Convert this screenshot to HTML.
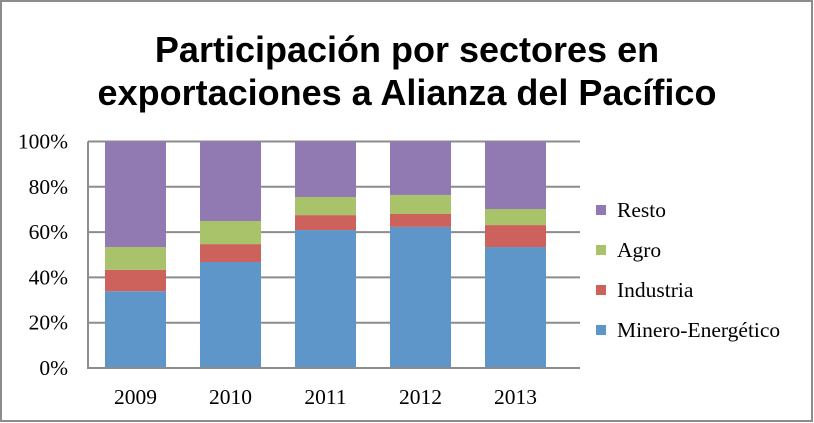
<!DOCTYPE html>
<html><head><meta charset="utf-8"><style>
body{margin:0;background:#fff;}
svg{display:block;}
</style></head><body>
<svg id="chart" width="814" height="423" xmlns="http://www.w3.org/2000/svg">
<rect x="1" y="1" width="811" height="420" fill="#fff" stroke="#8c8c8c" stroke-width="2"/>
<text x="407" y="62" text-anchor="middle" font-family="Liberation Sans, sans-serif" font-weight="bold" font-size="36" fill="#000">Participación por sectores en</text>
<text x="407" y="105" text-anchor="middle" font-family="Liberation Sans, sans-serif" font-weight="bold" font-size="36" fill="#000">exportaciones a Alianza del Pacífico</text>
<g id="grid"></g><g id="bars"></g><g id="axes"></g><g id="legend"></g>
</svg>
<script>
const categories=["2009","2010","2011","2012","2013"];
const minero=[33.9,46.8,60.9,62.3,53.4];
const industria=[9.4,7.9,6.6,5.7,9.7];
const agro=[10.1,10.2,8.0,8.4,7.1];
const resto=[46.6,35.1,24.5,23.6,29.8];
const tickValues=[0,20,40,60,80,100];
const tickLabels=["0%","20%","40%","60%","80%","100%"];
const seriesNames=["Minero-Energético","Industria","Agro","Resto"];
const seriesColors=["#5f96c9","#cd625c","#a9c36b","#9179b1"];
const NS="http://www.w3.org/2000/svg";
const x0=88,x1=580,yTop=141.5,yBot=368;
function y(v){return yBot-(v/100)*(yBot-yTop);}
function xc(i){return 135.5+i*95;}
const bw=61;
function mk(t,a,p){const e=document.createElementNS(NS,t);for(const k in a)e.setAttribute(k,a[k]);p.appendChild(e);return e;}
const grid=document.getElementById('grid'),bars=document.getElementById('bars'),axes=document.getElementById('axes'),legend=document.getElementById('legend');
tickValues.forEach((v,i)=>{
 if(v>0){const l=mk('line',{x1:x0,x2:x1,y1:y(v),y2:y(v),stroke:'#8c8c8c','stroke-width':2},grid);
 
 }
 const t=mk('text',{x:68,y:y(v)+7,'text-anchor':'end','font-family':'Liberation Serif, serif','font-size':21.5,fill:'#000'},axes);
 t.textContent=tickLabels[i];
 
 
});
const series=[minero,industria,agro,resto];
categories.forEach((c,i)=>{
 let acc=0;
 series.forEach((s,k)=>{
  const r=mk('rect',{x:xc(i)-bw/2,y:y(acc+s[i]),width:bw,height:y(acc)-y(acc+s[i]),fill:seriesColors[k]},bars);
  
  
  acc+=s[i];
 });
 const t=mk('text',{x:xc(i),y:404,'text-anchor':'middle','font-family':'Liberation Serif, serif','font-size':21.5,fill:'#000'},axes);
 t.textContent=c;
 
 
});
const ax=mk('path',{d:`M${x0} ${yTop} V${yBot} H${x1}`,fill:'none',stroke:'#8c8c8c','stroke-width':2},axes);


const ly=[330,290,250,210];
seriesNames.forEach((n,k)=>{
 const r=mk('rect',{x:596,y:ly[k]-5,width:10,height:10,fill:seriesColors[k]},legend);
 
 
 const t=mk('text',{x:617,y:ly[k]+7,'font-family':'Liberation Serif, serif','font-size':21.5,fill:'#000'},legend);
 t.textContent=n;
 
 
});
</script>
</body></html>
